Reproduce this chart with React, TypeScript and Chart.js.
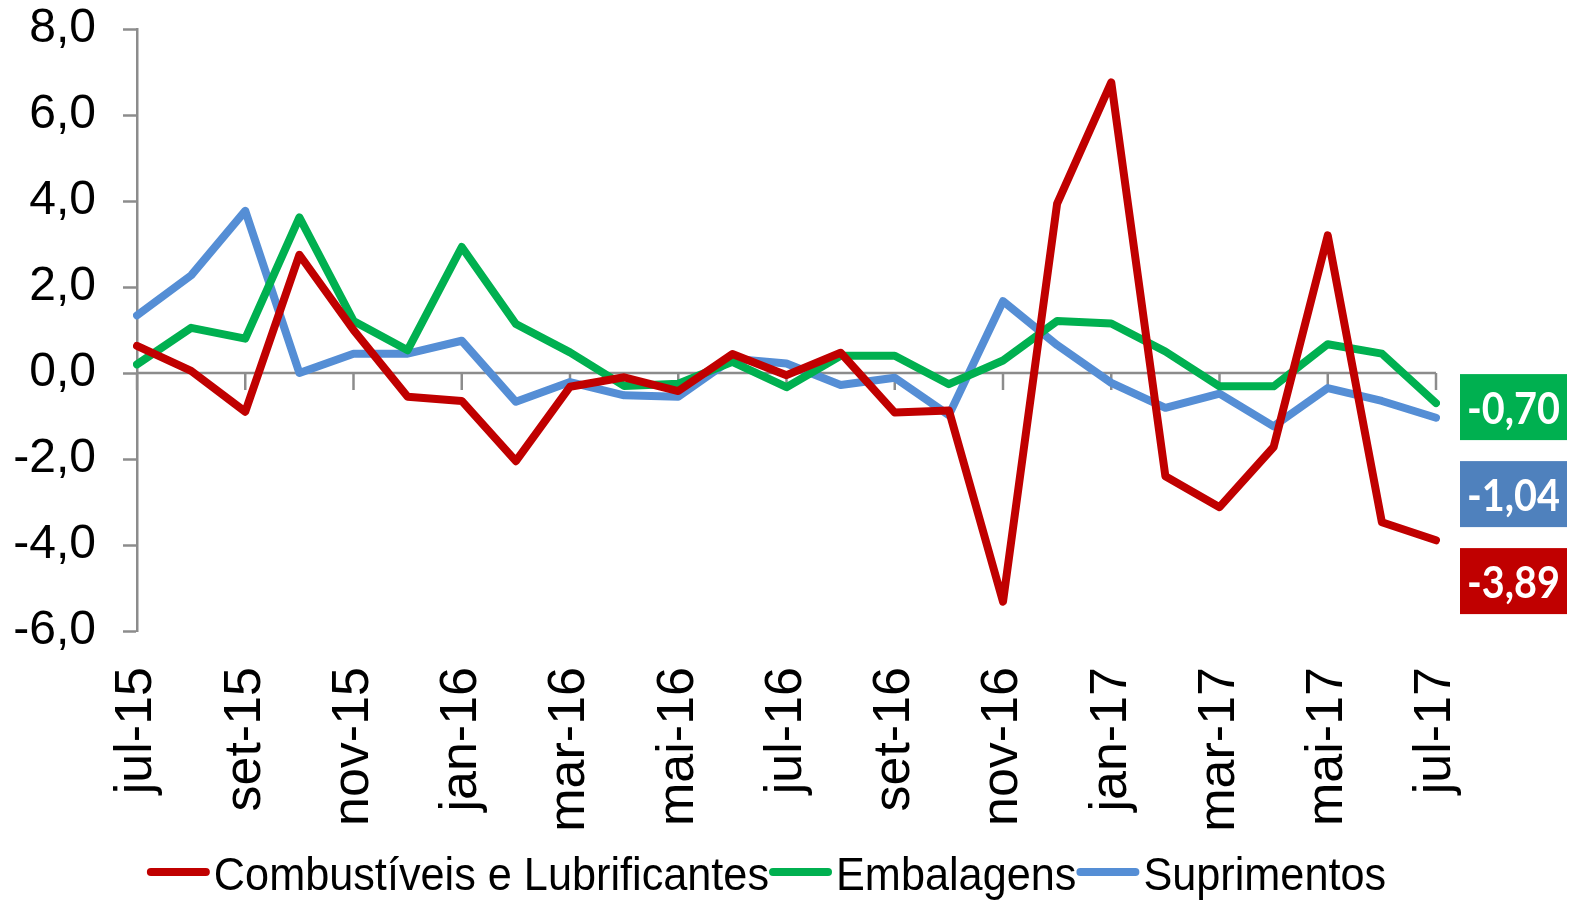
import React, { useEffect, useRef } from 'react';
import { Chart, registerables } from 'chart.js';

Chart.register(...registerables);

const months = ['jul-15','ago-15','set-15','out-15','nov-15','dez-15','jan-16','fev-16','mar-16','abr-16','mai-16','jun-16','jul-16','ago-16','set-16','out-16','nov-16','dez-16','jan-17','fev-17','mar-17','abr-17','mai-17','jun-17','jul-17'];

const combustiveis = [0.63, 0.05, -0.9, 2.75, 1.0, -0.55, -0.65, -2.05, -0.32, -0.1, -0.42, 0.44, -0.05, 0.47, -0.92, -0.87, -5.32, 3.94, 6.76, -2.4, -3.12, -1.72, 3.2, -3.47, -3.89];
const embalagens = [0.2, 1.05, 0.8, 3.62, 1.21, 0.53, 2.93, 1.14, 0.48, -0.3, -0.25, 0.26, -0.33, 0.4, 0.4, -0.26, 0.29, 1.21, 1.15, 0.5, -0.31, -0.31, 0.67, 0.45, -0.70];
const suprimentos = [1.34, 2.27, 3.77, 0.0, 0.45, 0.45, 0.75, -0.67, -0.21, -0.52, -0.55, 0.33, 0.22, -0.28, -0.11, -0.98, 1.67, 0.65, -0.23, -0.81, -0.48, -1.24, -0.35, -0.65, -1.04];

const seriesNames = ['Combustíveis e Lubrificantes', 'Embalagens', 'Suprimentos'];
const lineColors = ['#C00000', '#00B050', '#558ED5'];
const boxColors = ['#C00000', '#00B050', '#4F81BD'];

const Y_MIN = -6;
const Y_MAX = 8;
const Y_STEP = 2;

const AXIS_GRAY = '#8C8C8C';

const fmt = (v: number, d: number) => v.toFixed(d).replace('.', ',');

const zeroAxisPlugin = {
  id: 'zeroAxis',
  beforeDatasetsDraw(chart: any) {
    const { ctx, scales } = chart;
    const x = scales.x;
    const y = scales.y;
    const y0 = y.getPixelForValue(0);
    ctx.save();
    ctx.strokeStyle = AXIS_GRAY;
    ctx.lineWidth = 2.5;
    ctx.beginPath();
    ctx.moveTo(x.left, y0);
    ctx.lineTo(x.right, y0);
    ctx.stroke();
    for (let i = 0; i < months.length; i += 2) {
      const px = x.getPixelForValue(i);
      ctx.beginPath();
      ctx.moveTo(px, y0);
      ctx.lineTo(px, y0 + 17);
      ctx.stroke();
    }
    ctx.restore();
  },
};

const endLabelsPlugin = {
  id: 'endLabels',
  afterDatasetsDraw(chart: any) {
    const { ctx, scales, chartArea, data } = chart;
    const y = scales.y;
    const items = data.datasets.map((ds: any, i: number) => {
      const v = ds.data[ds.data.length - 1];
      return { v, py: y.getPixelForValue(v), color: boxColors[i] };
    });
    items.sort((a: any, b: any) => b.v - a.v);
    let prev = -Infinity;
    const w = 107;
    const h = 66;
    const left = chartArea.right + 24;
    ctx.save();
    items.forEach((it: any) => {
      const c = Math.max(it.py + 4, prev + 87);
      prev = c;
      ctx.fillStyle = it.color;
      ctx.fillRect(left, c - h / 2, w, h);
      ctx.save();
      ctx.translate(left + w / 2, c + 3);
      ctx.scale(0.9, 1);
      ctx.fillStyle = '#FFFFFF';
      ctx.font = "bold 44px Lato, 'Open Sans', sans-serif";
      ctx.textAlign = 'center';
      ctx.textBaseline = 'middle';
      ctx.fillText(fmt(it.v, 2), 0, 0);
      ctx.restore();
    });
    ctx.restore();
  },
};

const legendPlugin = {
  id: 'customLegend',
  afterDraw(chart: any) {
    const { ctx, chartArea, data } = chart;
    const sx = 0.92;
    const sample = 63;
    const gap = 4;
    ctx.save();
    ctx.font = "47px 'Liberation Sans', Arial, sans-serif";
    const widths = data.datasets.map((ds: any) => ctx.measureText(ds.label).width * sx);
    const total = widths.reduce((a: number, b: number) => a + b, 0) + data.datasets.length * (sample + gap);
    const center = (chartArea.left + chartArea.right) / 2 - 20;
    let x = center - total / 2;
    const yLine = 872;
    const yText = 877;
    data.datasets.forEach((ds: any, i: number) => {
      ctx.strokeStyle = ds.borderColor;
      ctx.lineWidth = 8;
      ctx.lineCap = 'round';
      ctx.beginPath();
      ctx.moveTo(x + 4, yLine);
      ctx.lineTo(x + sample - 4, yLine);
      ctx.stroke();
      x += sample + gap;
      ctx.save();
      ctx.translate(x, yText);
      ctx.scale(sx, 1);
      ctx.fillStyle = '#000000';
      ctx.textAlign = 'left';
      ctx.textBaseline = 'middle';
      ctx.fillText(ds.label, 0, 0);
      ctx.restore();
      x += widths[i];
    });
    ctx.restore();
  },
};

export default function App() {
  const canvasRef = useRef<HTMLCanvasElement | null>(null);

  useEffect(() => {
    const canvas = canvasRef.current;
    if (!canvas) return;
    const series = [combustiveis, embalagens, suprimentos];
    const chart = new Chart(canvas, {
      type: 'line',
      data: {
        labels: months,
        datasets: series.map((d, i) => ({
          label: seriesNames[i],
          data: d,
          borderColor: lineColors[i],
          backgroundColor: lineColors[i],
          borderWidth: 8,
          pointRadius: 0,
          pointHoverRadius: 0,
          tension: 0,
          fill: false,
          borderJoinStyle: 'round' as const,
          borderCapStyle: 'round' as const,
        })),
      },
      options: {
        responsive: false,
        animation: false,
        devicePixelRatio: 1,
        layout: { padding: { left: 0, top: 29, right: 141, bottom: 55 } },
        plugins: {
          legend: { display: false },
          tooltip: { enabled: false },
        },
        scales: {
          x: {
            type: 'category',
            offset: false,
            grid: { display: false, drawTicks: false },
            border: { display: false },
            afterFit(scale: any) {
              scale.height = 220;
            },
            ticks: {
              autoSkip: false,
              maxRotation: 90,
              minRotation: 90,
              padding: 36,
              color: '#000000',
              font: { family: "'Liberation Sans', Arial, sans-serif", size: 52 },
              callback: (_v: any, idx: number) => (idx % 2 === 0 ? months[idx] : ''),
            },
          },
          y: {
            min: Y_MIN,
            max: Y_MAX,
            afterFit(scale: any) {
              scale.width = 137;
              scale.paddingTop = 0;
              scale.paddingBottom = 0;
            },
            grid: {
              drawOnChartArea: false,
              drawTicks: true,
              tickLength: 14,
              tickColor: AXIS_GRAY,
              tickWidth: 2.5,
            },
            border: { display: true, color: AXIS_GRAY, width: 2.5 },
            ticks: {
              stepSize: Y_STEP,
              padding: 27,
              color: '#000000',
              font: { family: "'Liberation Sans', Arial, sans-serif", size: 48 },
              callback: (v: any) => fmt(Number(v), 1),
            },
          },
        },
      },
      plugins: [zeroAxisPlugin, endLabelsPlugin, legendPlugin],
    });
    return () => chart.destroy();
  }, []);

  return (
    <div style={{ position: 'fixed', left: 0, top: 0, width: 1577, height: 906, background: '#FFFFFF' }}>
      <canvas ref={canvasRef} width={1577} height={906} />
    </div>
  );
}
